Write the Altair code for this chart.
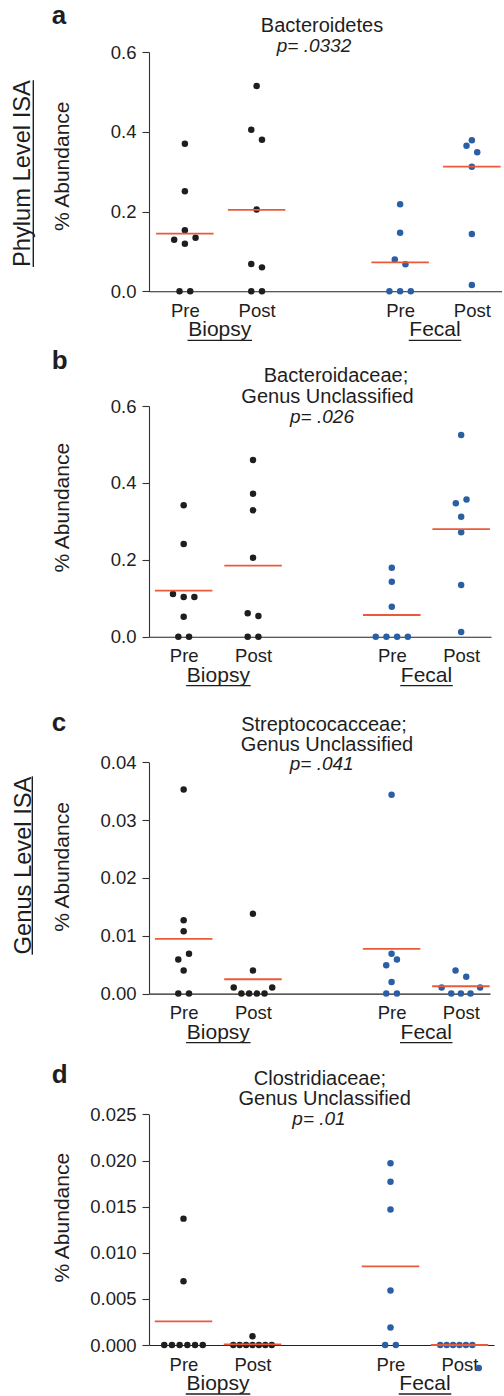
import altair as alt
import pandas as pd

FONT = "Liberation Sans, Arial, Helvetica, sans-serif"
INK = "#1e1e1e"
BLUE = "#2a5fa6"
RED = "#ea5a3a"

# ---------------- data ----------------
column_labels = ["Pre", "Post", "Pre", "Post"]
column_groups = ["Biopsy", "Biopsy", "Fecal", "Fecal"]
column_positions = [1, 2, 4, 5]
group_labels = ["Biopsy", "Fecal"]
group_centers = [1.5, 4.5]

# each column = rows of dots drawn side by side (left to right)
a_biopsy_pre = [[0.370], [0.251], [0.153], [0.129, 0.119, 0.134], [0.0, 0.0]]
a_biopsy_post = [[0.515], [0.405, 0.380], [0.205], [0.0685, 0.060], [0.0, 0.0]]
a_fecal_pre = [[0.218], [0.147], [0.080, 0.068], [0.0, 0.0, 0.0]]
a_fecal_post = [[0.3785], [0.365, 0.3485], [0.312], [0.1437], [0.0159]]
a_means = [0.1446, 0.204, 0.0727, 0.3125]

b_biopsy_pre = [[0.3416], [0.241], [0.111, 0.103, 0.103], [0.052], [0.0, 0.0]]
b_biopsy_post = [[0.4595], [0.372], [0.3286], [0.2055], [0.0607, 0.0538], [0.0, 0.0]]
b_fecal_pre = [[0.1795], [0.143], [0.078], [0.0, 0.0, 0.0, 0.0]]
b_fecal_post = [[0.5246], [0.3468, 0.357], [0.3121], [0.2714], [0.1344], [0.0121]]
b_means = [0.1197, 0.1847, 0.0564, 0.280]

c_biopsy_pre = [[0.0353], [0.0127], [0.0108], [0.0059, 0.0069], [0.0040], [0.0, 0.0]]
c_biopsy_post = [[0.0138], [0.0040], [0.00104, 0.0, 0.0, 0.0, 0.0, 0.00104]]
c_fecal_pre = [[0.0344], [0.0069], [0.0049, 0.0059], [0.0020], [0.0, 0.0]]
c_fecal_post = [[0.0040, 0.0029], [0.00104, 0.0, 0.0, 0.0, 0.00104]]
c_means = [0.00945, 0.00248, 0.00772, 0.00127]

d_biopsy_pre = [[0.0137], [0.0069], [0.0, 0.0, 0.0, 0.0, 0.0, 0.0]]
d_biopsy_post = [[0.00094], [0.0, 0.0, 0.0, 0.0, 0.0, 0.0, 0.0]]
d_fecal_pre = [[0.0197], [0.0177], [0.0147], [0.0059], [0.0019], [0.0, 0.0]]
d_fecal_post = [[0.0, 0.0, 0.0, 0.0, 0.0, 0.0, -0.0025]]
d_means = [0.00257, 0.00007, 0.00853, 0.0]

panels = [
    dict(letter="a", title=["Bacteroidetes"], p="p= .0332",
         columns=[a_biopsy_pre, a_biopsy_post, a_fecal_pre, a_fecal_post],
         means=a_means, ticks=[0, 0.2, 0.4, 0.6], fmt=".1f", row_label="Phylum Level ISA"),
    dict(letter="b", title=["Bacteroidaceae;", "Genus Unclassified"], p="p= .026",
         columns=[b_biopsy_pre, b_biopsy_post, b_fecal_pre, b_fecal_post],
         means=b_means, ticks=[0, 0.2, 0.4, 0.6], fmt=".1f", row_label=None),
    dict(letter="c", title=["Streptococacceae;", "Genus Unclassified"], p="p= .041",
         columns=[c_biopsy_pre, c_biopsy_post, c_fecal_pre, c_fecal_post],
         means=c_means, ticks=[0, 0.01, 0.02, 0.03, 0.04], fmt=".2f", row_label="Genus Level ISA"),
    dict(letter="d", title=["Clostridiaceae;", "Genus Unclassified"], p="p= .01",
         columns=[d_biopsy_pre, d_biopsy_post, d_fecal_pre, d_fecal_post],
         means=d_means, ticks=[0, 0.005, 0.01, 0.015, 0.02, 0.025], fmt=".3f", row_label=None),
]

# ---------------- layout (pixels) ----------------
LEFT = 149
SPACING = 110
DOT_STEP = 10.7
ROW_MAX = 38.5
TITLE_SIZE = 20
layout = [
    dict(axis_top=51.7, axis_bottom=291.0, width=353, xmax=5.42, letter_y=-28.2,
         title_xy=[(173, -20.5)], p_xy=(165, 0), ytitle_y=114.3,
         row=dict(x=-119, y=121.6, length=186.7, ux=-115.7), group_dx=-1),
    dict(axis_top=405.0, axis_bottom=635.7, width=342, xmax=5.43, letter_y=-36.7,
         title_xy=[(187, -24), (178.5, -3.5)], p_xy=(173, 17), ytitle_y=101.7,
         row=None, group_dx=0),
    dict(axis_top=761.0, axis_bottom=992.3, width=341, xmax=5.42, letter_y=-31,
         title_xy=[(175, -31), (178, -11.7)], p_xy=(172.7, 7.8), ytitle_y=104.7,
         row=dict(x=-118.5, y=103.2, length=178.3, ux=-116.7), group_dx=0),
    dict(axis_top=1112.7, axis_bottom=1343.3, width=345, xmax=5.5, letter_y=-31,
         title_xy=[(171, -29.2), (175.7, -9.6)], p_xy=(170, 10.4), ytitle_y=103.3,
         row=None, group_dx=0),
]
underline_width = {"Biopsy": 64.5, "Fecal": 52.5}


def one():
    return pd.DataFrame({"k": [0]})


def text_layer(text, x, y, size, **kw):
    return alt.Chart(pd.DataFrame({"t": [text]})).mark_text(
        font=FONT, fontSize=size, color=INK, **kw
    ).encode(x=alt.value(x), y=alt.value(y), text="t:N")


def build_panel(spec, lay, top, height, ext):
    width, xmax = lay["width"], lay["xmax"]
    px_per_unit = width / (xmax - 0.5)
    recs = []
    for pos, grp, rows in zip(column_positions, column_groups, spec["columns"]):
        for row in rows:
            k = len(row)
            step = min(DOT_STEP, ROW_MAX / (k - 1)) if k > 1 else 0
            for j, v in enumerate(row):
                off = (j - (k - 1) / 2) * step
                recs.append(dict(x=pos + off / px_per_unit, v=v,
                                 c=INK if grp == "Biopsy" else BLUE))
    pts = pd.DataFrame(recs)
    means = pd.DataFrame({"x": column_positions, "v": spec["means"]})
    groups = pd.DataFrame({"x": group_centers, "g": group_labels})

    xscale = alt.Scale(domain=[0.5, xmax], nice=False, zero=False)
    yscale = alt.Scale(domain=[0, spec["ticks"][-1]], range=[height, ext], nice=False, zero=False)
    lab_expr = " : ".join(f"datum.value == {p} ? '{l}'"
                          for p, l in zip(column_positions, column_labels)) + " : ''"
    xaxis = alt.Axis(values=column_positions, labelExpr=lab_expr, title=None, grid=False,
                     ticks=False, tickSize=0, labelPadding=25, labelBaseline="alphabetic",
                     labelFont=FONT, labelFontSize=18.5, labelColor=INK, labelFlush=False,
                     labelOverlap=False, domainColor="#222", domainWidth=1.1)
    yaxis = alt.Axis(values=spec["ticks"], format=spec["fmt"], title=None, grid=False,
                     tickSize=7, tickColor="#333", tickWidth=1.1, labelPadding=6,
                     labelFont=FONT, labelFontSize=18.5, labelColor=INK, labelFlush=False,
                     labelOverlap=False, domainColor="#333", domainWidth=1.1)
    X = alt.X("x:Q", scale=xscale, axis=xaxis)
    Y = alt.Y("v:Q", scale=yscale, axis=yaxis)

    layers = []
    layers.append(alt.Chart(pts).mark_circle(size=42, opacity=1).encode(
        x=X, y=Y, color=alt.Color("c:N", scale=None)))
    layers.append(alt.Chart(means).mark_tick(orient="horizontal", size=57.5, thickness=1.8,
                                             color=RED, opacity=1).encode(x=X, y=Y))
    # group labels + underlines
    layers.append(alt.Chart(groups).mark_text(font=FONT, fontSize=21, color=INK,
                                              baseline="alphabetic", dx=lay["group_dx"]).encode(
        x=X, y=alt.value(height + 45), text="g:N"))
    for g, c in zip(group_labels, group_centers):
        w = underline_width[g]
        layers.append(alt.Chart(pd.DataFrame({"x": [c]})).mark_rule(
            color=INK, strokeWidth=1.3, xOffset=-w / 2 + lay["group_dx"],
            x2Offset=w / 2 + lay["group_dx"]).encode(
            x=X, x2="x:Q", y=alt.value(height + 49)))
    # panel letter
    layers.append(text_layer(spec["letter"], 51.7 - LEFT, lay["letter_y"] + ext, 26,
                             fontWeight="bold", align="left", baseline="alphabetic"))
    # title lines
    for line, (tx, ty) in zip(spec["title"], lay["title_xy"]):
        layers.append(text_layer(line, tx, ty + ext, TITLE_SIZE, align="center",
                                 baseline="alphabetic"))
    layers.append(text_layer(spec["p"], lay["p_xy"][0], lay["p_xy"][1] + ext, 19,
                             fontStyle="italic", align="center", baseline="alphabetic"))
    # y title
    layers.append(text_layer("% Abundance", 63.3 - LEFT, lay["ytitle_y"] + ext, 21,
                             angle=270, align="center", baseline="middle"))
    # row label
    if spec["row_label"]:
        r = lay["row"]
        layers.append(text_layer(spec["row_label"], r["x"], r["y"] + ext, 23.7,
                                 angle=270, align="center", baseline="alphabetic"))
        layers.append(alt.Chart(one()).mark_rule(color=INK, strokeWidth=1.4).encode(
            x=alt.value(r["ux"]), y=alt.value(r["y"] + ext - r["length"] / 2),
            y2=alt.value(r["y"] + ext + r["length"] / 2)))
    # invisible anchor fixing the page origin
    if spec["letter"] == "a":
        layers.append(alt.Chart(one()).mark_rect(opacity=0).encode(
            x=alt.value(-LEFT), x2=alt.value(-LEFT + 1),
            y=alt.value(-top), y2=alt.value(-top + 1)))
    return alt.layer(*layers).properties(width=width, height=height)


charts = []
prev_bottom = None
for spec, lay in zip(panels, layout):
    top = lay["axis_top"] if prev_bottom is None else prev_bottom + SPACING
    height = lay["axis_bottom"] - top
    ext = lay["axis_top"] - top
    charts.append(build_panel(spec, lay, top, height, ext))
    prev_bottom = lay["axis_bottom"]

chart = alt.vconcat(*charts, spacing=SPACING, bounds="flush").resolve_scale(
    x="independent", y="independent"
).properties(padding=0).configure_view(stroke=None)

chart.save("out.html", embed_options={"renderer": "svg", "actions": False})
